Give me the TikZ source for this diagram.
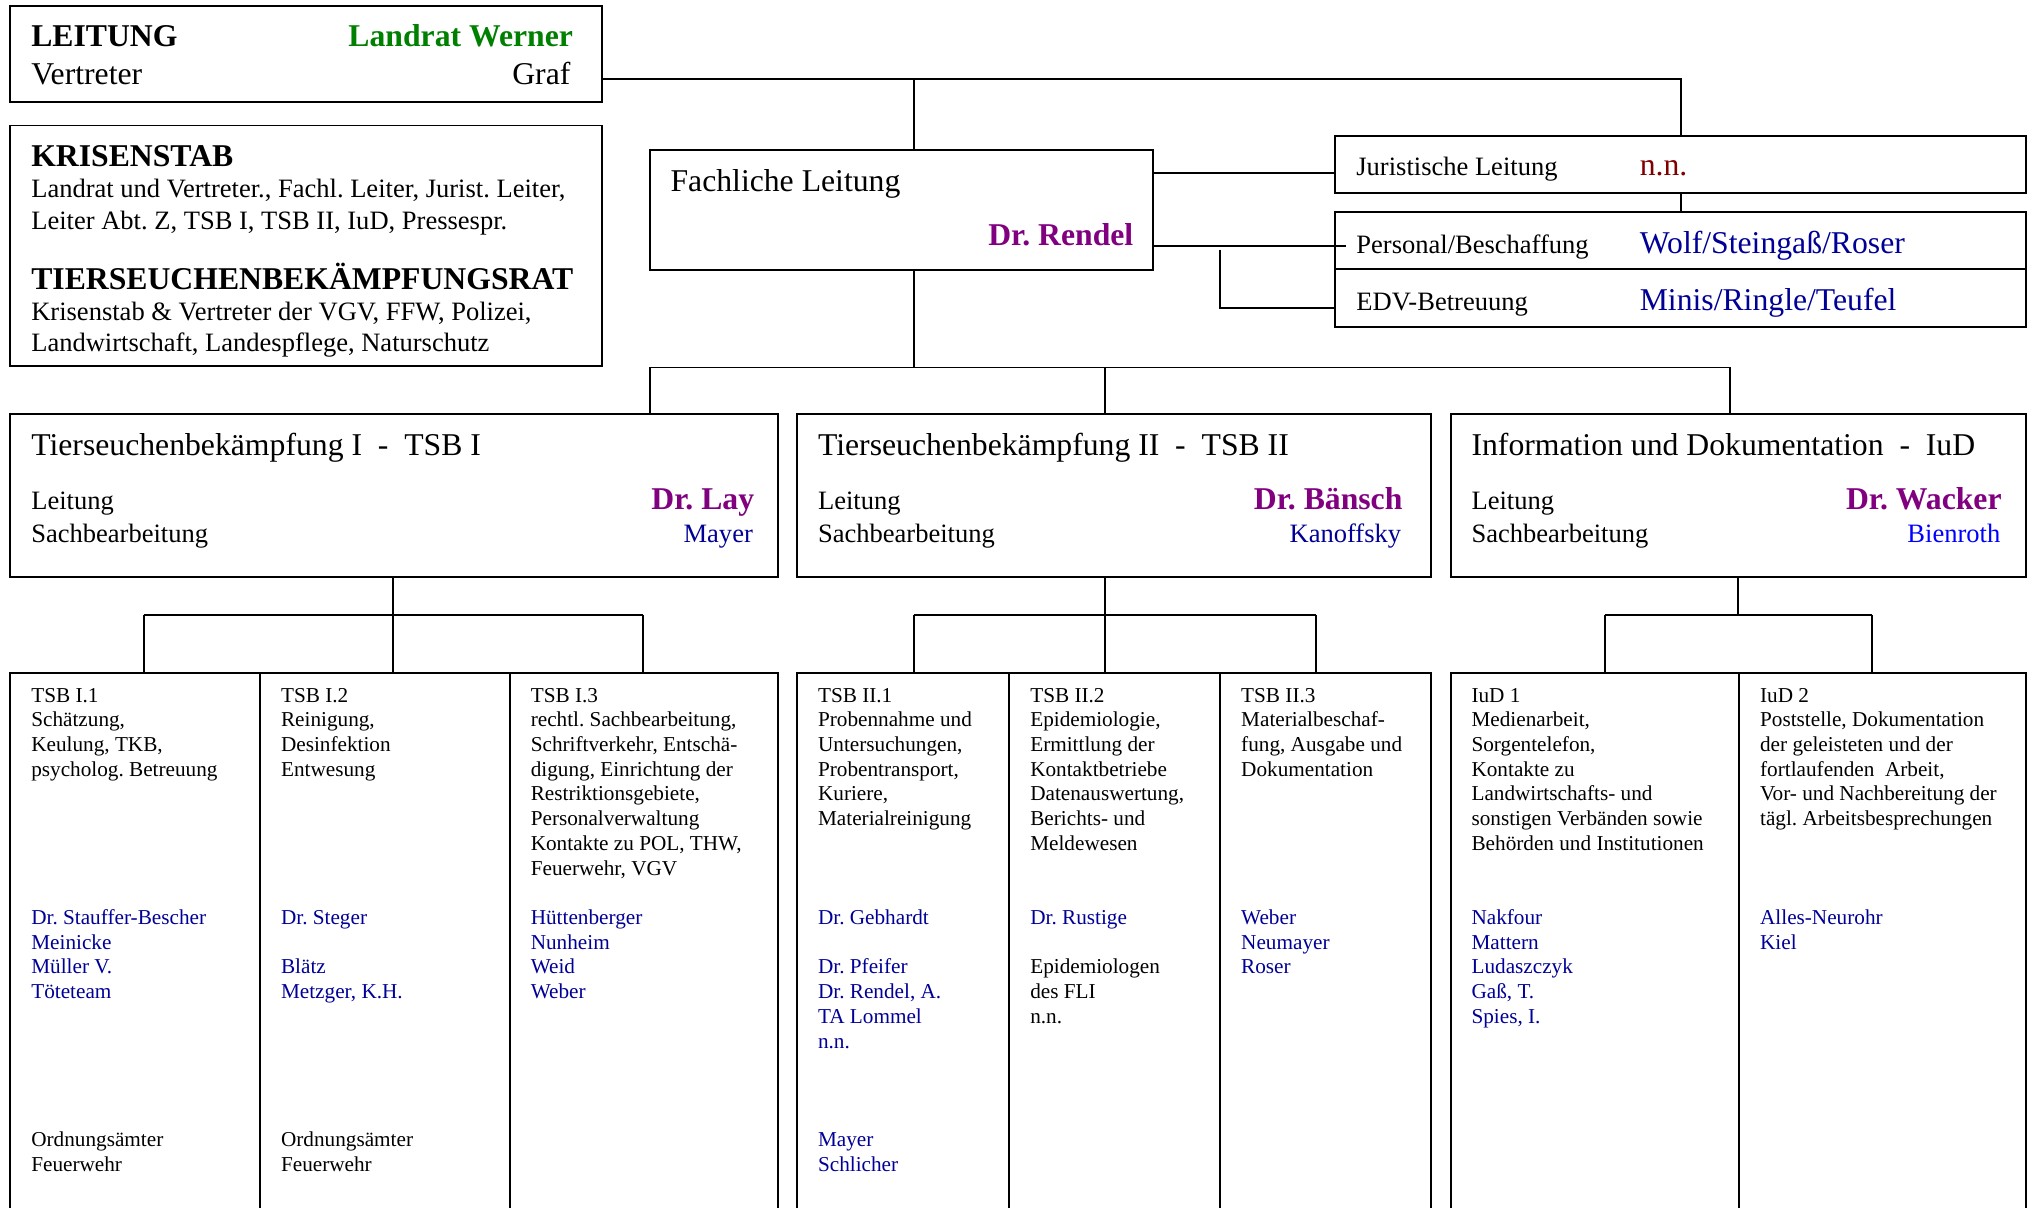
\documentclass[tikz,border=0pt]{standalone}
\usepackage{fontspec}
\setmainfont{Liberation Serif}
\frenchspacing
\definecolor{leadgreen}{RGB}{0,128,0}
\definecolor{headpurple}{RGB}{128,0,128}
\definecolor{nnred}{RGB}{128,0,0}
\definecolor{staffblue}{RGB}{0,0,150}
\definecolor{brightblue}{RGB}{0,0,255}

% rectangular frame from (x1,y1) to (x2,y2), y measured downwards
\newcommand\frameat[5]{\node[box, minimum width={(#4)-(#2)}, minimum height={(#5)-(#3)}] (#1) at (#2,#3) {};}
% one text line per list item, on a fixed line grid inside the lower boxes
\newcommand\textlines[5]{%
  \foreach \t [count=\i from #3] in {#5} {%
    \node[lbl, small, text=#4] (#1-\i) at (#2, {542.5+\i*19.1}) {\t};}}

\begin{document}
\begin{tikzpicture}[x=1pt, y=-1pt,
  box/.style={draw, line width=1.5pt, inner sep=0pt, outer sep=0pt, anchor=north west, rectangle},
  conn/.style={line width=1.5pt},
  lbl/.style={inner sep=0pt, anchor=base west},
  rlbl/.style={inner sep=0pt, anchor=base east},
  big/.style={font=\fontsize{24.5}{29}\selectfont},
  bigb/.style={font=\bfseries\fontsize{24.5}{29}\selectfont},
  mid/.style={font=\fontsize{20.5}{24}\selectfont},
  small/.style={font=\fontsize{16.4}{19.1}\selectfont}]

\useasboundingbox (0,0) rectangle (1568,933);
\clip (0,0) rectangle (1568,933);

% ---------- frames ----------
\frameat{leit}{8}{5}{465}{79}
\frameat{krise}{8}{97}{465}{283}
\frameat{fach}{502}{116}{891}{209}
\frameat{jur}{1032}{105}{1566}{149}
\frameat{pers}{1032}{164}{1566}{208}
\frameat{edv}{1032}{208}{1566}{253}

\frameat{tsb1}{8}{320}{601}{446}
\frameat{tsb2}{616}{320}{1106}{446}
\frameat{iud}{1121}{320}{1566}{446}

\frameat{c11}{8}{520}{201}{950}
\frameat{c12}{201}{520}{394}{950}
\frameat{c13}{394}{520}{601}{950}
\frameat{c21}{616}{520}{780}{950}
\frameat{c22}{780}{520}{943}{950}
\frameat{c23}{943}{520}{1106}{950}
\frameat{c31}{1121}{520}{1344}{950}
\frameat{c32}{1344}{520}{1566}{950}

% ---------- Leitung ----------
\node[lbl, bigb] (tLeit) at (24,36) {LEITUNG};
\node[rlbl, bigb, text=leadgreen] (tWerner) at (443,36) {Landrat Werner};
\node[lbl, big] (tVertr) at (24,65) {Vertreter};
\node[rlbl, big] (tGraf) at (441,65) {Graf};

% ---------- Krisenstab ----------
\node[lbl, bigb] (tKrise) at (24,129) {KRISENSTAB};
\node[lbl, mid] (tKrise1) at (24,153) {Landrat und Vertreter., Fachl. Leiter, Jurist. Leiter,};
\node[lbl, mid] (tKrise2) at (24,177) {Leiter Abt. Z, TSB I, TSB II, IuD, Pressespr.};
\node[lbl, bigb] (tRat) at (24,224) {TIERSEUCHENBEKÄMPFUNGSRAT};
\node[lbl, mid] (tRat1) at (24,248) {Krisenstab \& Vertreter der VGV, FFW, Polizei,};
\node[lbl, mid] (tRat2) at (24,272) {Landwirtschaft, Landespflege, Naturschutz};

% ---------- Fachliche Leitung and staff units ----------
\node[lbl, big] (tFach) at (518,148) {Fachliche Leitung};
\node[rlbl, bigb, text=headpurple] (tRendel) at (876,190) {Dr. Rendel};

\node[lbl, mid] (tJur) at (1048,136) {Juristische Leitung};
\node[lbl, big, text=nnred] (tJurN) at (1267,136) {n.n.};
\node[lbl, mid] (tPers) at (1048,196) {Personal/Beschaffung};
\node[lbl, big, text=staffblue] (tPersN) at (1267,196) {Wolf/Steingaß/Roser};
\node[lbl, mid] (tEdv) at (1048,240) {EDV-Betreuung};
\node[lbl, big, text=staffblue] (tEdvN) at (1267,240) {Minis/Ringle/Teufel};

% ---------- departments ----------
\node[lbl, big] (tT1) at (24,352) {Tierseuchenbekämpfung I\ \ -\ \ TSB I};
\node[lbl, mid] (tT1a) at (24,394) {Leitung};
\node[lbl, mid] (tT1b) at (24,419) {Sachbearbeitung};
\node[rlbl, bigb, text=headpurple] (tT1c) at (583,394) {Dr. Lay};
\node[rlbl, mid, text=staffblue] (tT1d) at (582,419) {Mayer};

\node[lbl, big] (tT2) at (632,352) {Tierseuchenbekämpfung II\ \ -\ \ TSB II};
\node[lbl, mid] (tT2a) at (632,394) {Leitung};
\node[lbl, mid] (tT2b) at (632,419) {Sachbearbeitung};
\node[rlbl, bigb, text=headpurple] (tT2c) at (1084,394) {Dr. Bänsch};
\node[rlbl, mid, text=staffblue] (tT2d) at (1083,419) {Kanoffsky};

\node[lbl, big] (tI) at (1137,352) {Information und Dokumentation\ \ -\ \ IuD};
\node[lbl, mid] (tIa) at (1137,394) {Leitung};
\node[lbl, mid] (tIb) at (1137,419) {Sachbearbeitung};
\node[rlbl, bigb, text=headpurple] (tIc) at (1547,394) {Dr. Wacker};
\node[rlbl, mid, text=brightblue] (tId) at (1546,419) {Bienroth};

% ---------- sections ----------
\textlines{a11}{24}{0}{black}{TSB I.1, Schätzung{,}, {Keulung, TKB,}, psycholog. Betreuung}
\textlines{b11}{24}{9}{staffblue}{Dr. Stauffer-Bescher, Meinicke, Müller V., Töteteam}
\textlines{d11}{24}{18}{black}{Ordnungsämter, Feuerwehr}

\textlines{a12}{217}{0}{black}{TSB I.2, Reinigung{,}, Desinfektion, Entwesung}
\textlines{b12}{217}{9}{staffblue}{Dr. Steger}
\textlines{c12}{217}{11}{staffblue}{Blätz, {Metzger, K.H.}}
\textlines{d12}{217}{18}{black}{Ordnungsämter, Feuerwehr}

\textlines{a13}{410}{0}{black}{TSB I.3, rechtl. Sachbearbeitung{,}, {Schriftverkehr, Entschä-}, {digung, Einrichtung der}, Restriktionsgebiete{,}, Personalverwaltung, {Kontakte zu POL, THW,}, {Feuerwehr, VGV}}
\textlines{b13}{410}{9}{staffblue}{Hüttenberger, Nunheim, Weid, Weber}

\textlines{a21}{632}{0}{black}{TSB II.1, Probennahme und, Untersuchungen{,}, Probentransport{,}, Kuriere{,}, Materialreinigung}
\textlines{b21}{632}{9}{staffblue}{Dr. Gebhardt}
\textlines{c21}{632}{11}{staffblue}{Dr. Pfeifer, {Dr. Rendel, A.}, TA Lommel, n.n.}
\textlines{d21}{632}{18}{staffblue}{Mayer, Schlicher}

\textlines{a22}{796}{0}{black}{TSB II.2, Epidemiologie{,}, Ermittlung der, Kontaktbetriebe, Datenauswertung{,}, Berichts- und, Meldewesen}
\textlines{b22}{796}{9}{staffblue}{Dr. Rustige}
\textlines{c22}{796}{11}{black}{Epidemiologen, des FLI, n.n.}

\textlines{a23}{959}{0}{black}{TSB II.3, Materialbeschaf-, {fung, Ausgabe und}, Dokumentation}
\textlines{b23}{959}{9}{staffblue}{Weber, Neumayer, Roser}

\textlines{a31}{1137}{0}{black}{IuD 1, Medienarbeit{,}, Sorgentelefon{,}, Kontakte zu, Landwirtschafts- und, sonstigen Verbänden sowie, Behörden und Institutionen}
\textlines{b31}{1137}{9}{staffblue}{Nakfour, Mattern, Ludaszczyk, {Gaß, T.}, {Spies, I.}}

\textlines{a32}{1360}{0}{black}{IuD 2, {Poststelle, Dokumentation}, der geleisteten und der, {fortlaufenden\ \ Arbeit,}, Vor- und Nachbereitung der, tägl. Arbeitsbesprechungen}
\textlines{b32}{1360}{9}{staffblue}{Alles-Neurohr, Kiel}

% ---------- connectors: top level ----------
\coordinate (jTop) at (706,61);
\draw[conn] ([yshift=-19pt]leit.east) -- (jTop) -| (jur.north);
\draw[conn] (jTop) -- (jTop |- fach.north);
\draw[conn] (jur.south) -- (pers.north);

\path ([yshift=28.5pt]fach.east) coordinate (fJ);
\draw[conn] (fJ) -- (fJ -| jur.west);
\path ([yshift=-27.5pt]fach.east) coordinate (fP);
\draw[conn] (fP) -- ([xshift=8pt]fP -| pers.west);
\coordinate (eTop) at (943,193);
\coordinate (eBot) at (943,238);
\draw[conn] (eTop) -- (eBot) -- (eBot -| edv.west);

% ---------- connectors: departments ----------
\coordinate (busM) at (706,284);
\coordinate (b1) at (502,284);
\coordinate (b2) at (854,284);
\coordinate (b3) at (1337,284);
\draw[conn] (jTop |- fach.south) -- (busM);
\draw[conn] (b1) -- (b3);
\draw[conn] (b1) -- (b1 |- tsb1.north);
\draw[conn] (b2) -- (b2 |- tsb2.north);
\draw[conn] (b3) -- (b3 |- iud.north);

% ---------- connectors: sections ----------
\coordinate (s1) at (304,475);
\coordinate (s1L) at (111,475);
\coordinate (s1R) at (497,475);
\draw[conn] (s1 |- tsb1.south) -- (s1);
\draw[conn] (s1L) -- (s1R);
\draw[conn] (s1L) -- (s1L |- c11.north);
\draw[conn] (s1) -- (s1 |- c12.north);
\draw[conn] (s1R) -- (s1R |- c13.north);

\coordinate (s2) at (854,475);
\coordinate (s2L) at (706,475);
\coordinate (s2R) at (1017,475);
\draw[conn] (s2 |- tsb2.south) -- (s2);
\draw[conn] (s2L) -- (s2R);
\draw[conn] (s2L) -- (s2L |- c21.north);
\draw[conn] (s2) -- (s2 |- c22.north);
\draw[conn] (s2R) -- (s2R |- c23.north);

\coordinate (s3) at (1343,475);
\coordinate (s3L) at (1240,475);
\coordinate (s3R) at (1447,475);
\draw[conn] (s3 |- iud.south) -- (s3);
\draw[conn] (s3L) -- (s3R);
\draw[conn] (s3L) -- (s3L |- c31.north);
\draw[conn] (s3R) -- (s3R |- c32.north);
\end{tikzpicture}
\end{document}
